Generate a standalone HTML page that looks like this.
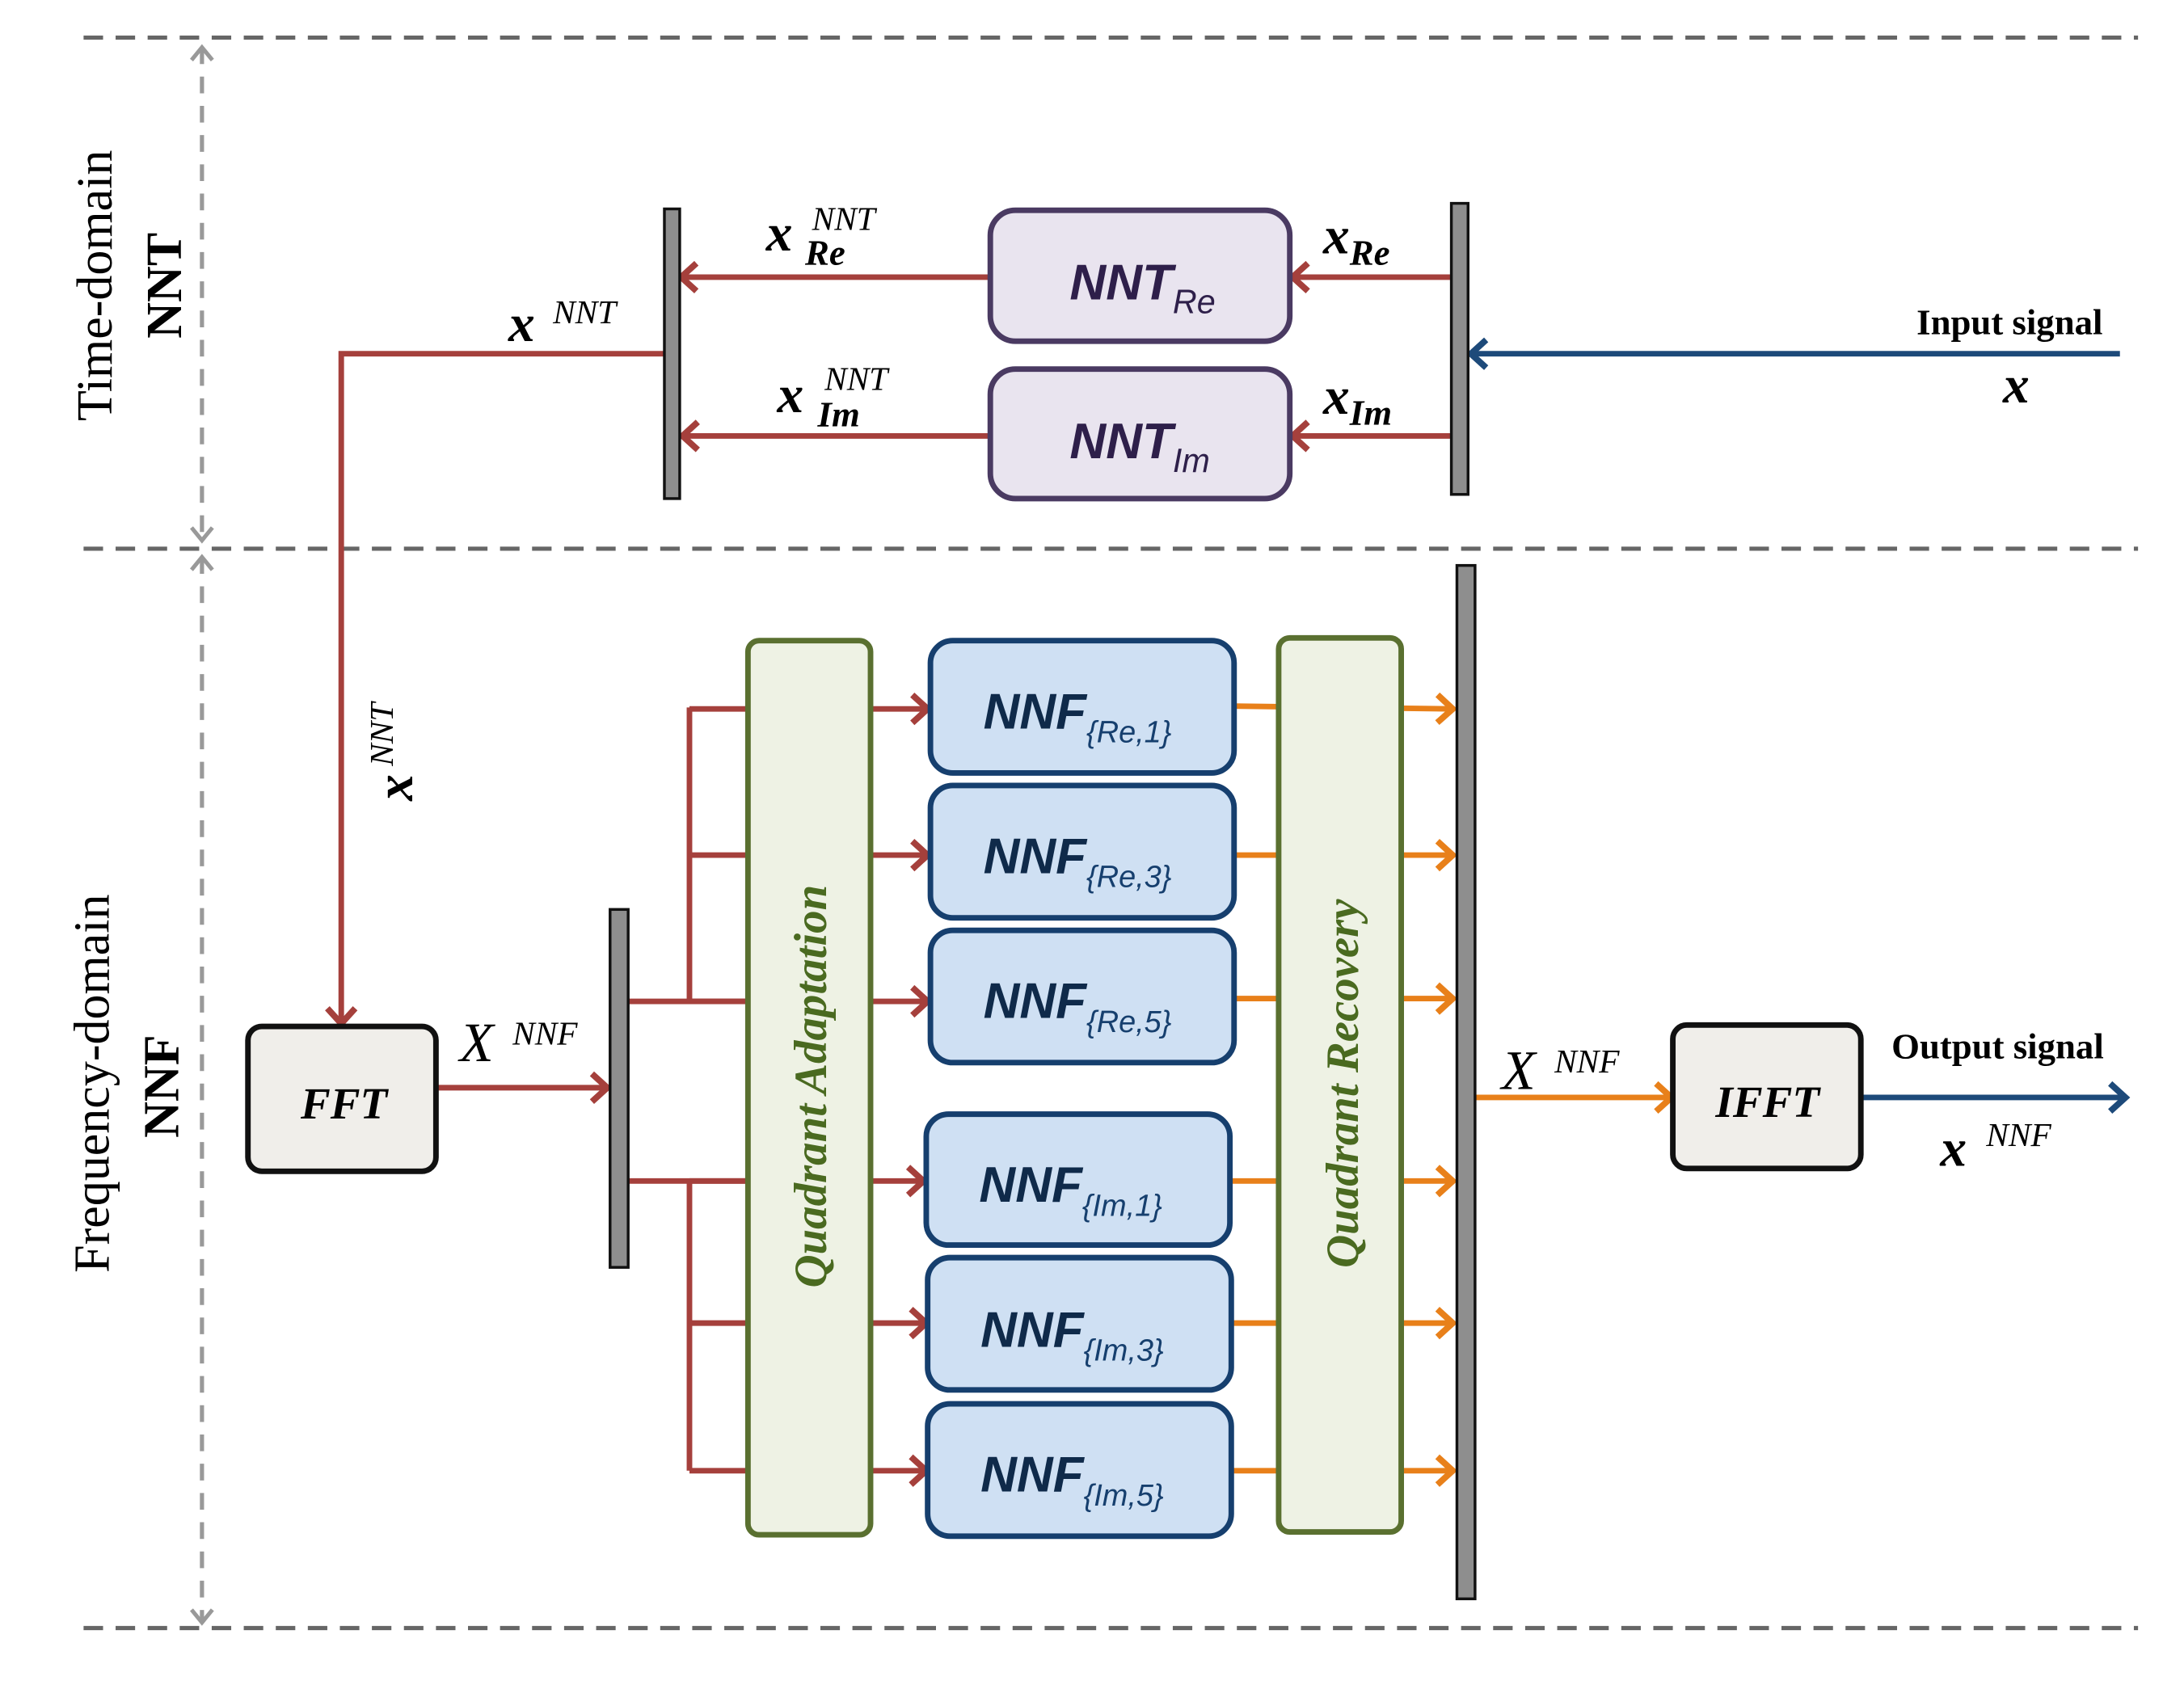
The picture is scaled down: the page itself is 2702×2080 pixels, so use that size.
<!DOCTYPE html>
<html><head><meta charset="utf-8"><style>
html,body{margin:0;padding:0;background:#fff}
svg{display:block}
.s{font-family:"Liberation Serif",serif}
.c{font-family:"Liberation Sans",sans-serif}
</style></head><body>
<svg width="2702" height="2080" viewBox="0 0 1568 1207" preserveAspectRatio="none" xmlns="http://www.w3.org/2000/svg">
<defs>
<marker id="ar" viewBox="0 0 24 24" refX="20" refY="12" markerWidth="24" markerHeight="24" orient="auto" markerUnits="userSpaceOnUse"><path d="M9,2 L20,12 L9,22" fill="none" stroke="#a5403c" stroke-width="4.5"/></marker>
<marker id="ab" viewBox="0 0 24 24" refX="20" refY="12" markerWidth="24" markerHeight="24" orient="auto" markerUnits="userSpaceOnUse"><path d="M9,2 L20,12 L9,22" fill="none" stroke="#1d4a7a" stroke-width="4.5"/></marker>
<marker id="ao" viewBox="0 0 24 24" refX="20" refY="12" markerWidth="24" markerHeight="24" orient="auto" markerUnits="userSpaceOnUse"><path d="M9,2 L20,12 L9,22" fill="none" stroke="#e8801a" stroke-width="4.5"/></marker>
<marker id="ag" viewBox="0 0 24 24" refX="20" refY="12" markerWidth="20" markerHeight="20" orient="auto-start-reverse" markerUnits="userSpaceOnUse"><path d="M9,3 L20,12 L9,21" fill="none" stroke="#999" stroke-width="3.5"/></marker>
</defs>
<g stroke="#666" stroke-width="3" stroke-dasharray="14,9">
<line x1="60" y1="27" x2="1535" y2="27"/>
<line x1="60" y1="394" x2="1535" y2="394"/>
<line x1="60" y1="1169" x2="1535" y2="1169"/>
</g>
<g stroke="#999" stroke-width="3" fill="none">
<line x1="145" y1="34" x2="145" y2="388" stroke-dasharray="12,9" marker-end="url(#ag)" marker-start="url(#ag)"/>
<line x1="145" y1="400" x2="145" y2="1165" stroke-dasharray="12,9" marker-end="url(#ag)" marker-start="url(#ag)"/>
</g>
<text class="s" x="0" y="0" font-size="36" transform="translate(80,205) rotate(-90)" text-anchor="middle">Time-domain</text>
<text class="s" x="0" y="0" font-size="36" font-weight="bold" transform="translate(130,205) rotate(-90)" text-anchor="middle">NNT</text>
<text class="s" x="0" y="0" font-size="36" transform="translate(78,778) rotate(-90)" text-anchor="middle">Frequency-domain</text>
<text class="s" x="0" y="0" font-size="36" font-weight="bold" transform="translate(128,780) rotate(-90)" text-anchor="middle">NNF</text>

<g stroke="#a5403c" stroke-width="4" fill="none">
<line x1="1042" y1="199" x2="928" y2="199" marker-end="url(#ar)"/>
<line x1="1042" y1="313" x2="928" y2="313" marker-end="url(#ar)"/>
<line x1="711" y1="199" x2="489" y2="199" marker-end="url(#ar)"/>
<line x1="711" y1="313" x2="490" y2="313" marker-end="url(#ar)"/>
<polyline points="477,254 245,254 245,735" marker-end="url(#ar)"/>
<line x1="313" y1="781" x2="436" y2="781" marker-end="url(#ar)"/>
<line x1="451" y1="719" x2="537" y2="719"/>
<line x1="451" y1="848" x2="537" y2="848"/>
<line x1="495" y1="508" x2="495" y2="719"/>
<line x1="495" y1="848" x2="495" y2="1056"/>
<line x1="495" y1="509" x2="666" y2="509" marker-end="url(#ar)"/>
<line x1="495" y1="614" x2="666" y2="614" marker-end="url(#ar)"/>
<line x1="495" y1="719" x2="666" y2="719" marker-end="url(#ar)"/>
<line x1="495" y1="848" x2="663" y2="848" marker-end="url(#ar)"/>
<line x1="495" y1="950" x2="665" y2="950" marker-end="url(#ar)"/>
<line x1="495" y1="1056" x2="665" y2="1056" marker-end="url(#ar)"/>
</g>
<g stroke="#1d4a7a" stroke-width="4" fill="none">
<line x1="1522" y1="254" x2="1056" y2="254" marker-end="url(#ab)"/>
<line x1="1336" y1="788" x2="1526" y2="788" marker-end="url(#ab)"/>
</g>
<g stroke="#e8801a" stroke-width="4" fill="none">
<line x1="886" y1="507" x2="1043" y2="509" marker-end="url(#ao)"/>
<line x1="886" y1="614" x2="1043" y2="614" marker-end="url(#ao)"/>
<line x1="886" y1="717" x2="1043" y2="717" marker-end="url(#ao)"/>
<line x1="883" y1="848" x2="1043" y2="848" marker-end="url(#ao)"/>
<line x1="884" y1="950" x2="1043" y2="950" marker-end="url(#ao)"/>
<line x1="884" y1="1056" x2="1043" y2="1056" marker-end="url(#ao)"/>
<line x1="1059" y1="788" x2="1200" y2="788" marker-end="url(#ao)"/>
</g>
<g fill="#8e8e8e" stroke="#111" stroke-width="2">
<rect x="477" y="150" width="11" height="208"/>
<rect x="1042" y="146" width="12" height="209"/>
<rect x="438" y="653" width="13" height="257"/>
<rect x="1046" y="406" width="13" height="742"/>
</g>
<g fill="#e9e4ef" stroke="#4a3a62" stroke-width="4">
<rect x="711" y="151" width="215" height="94" rx="18"/>
<rect x="711" y="265" width="215" height="93" rx="18"/>
</g>
<g class="c" font-style="italic" font-weight="bold" fill="#2e1f4a">
<text x="768" y="215" font-size="36">NNT<tspan font-size="24" font-weight="normal" dy="10">Re</tspan></text>
<text x="768" y="329" font-size="36">NNT<tspan font-size="24" font-weight="normal" dy="10">Im</tspan></text>
</g>
<g fill="#f0eeea" stroke="#111" stroke-width="4">
<rect x="178" y="737" width="135" height="104" rx="10"/>
<rect x="1201" y="736" width="135" height="103" rx="10"/>
</g>
<text class="s" x="247" y="803" font-size="32" font-style="italic" font-weight="bold" text-anchor="middle">FFT</text>
<text class="s" x="1269" y="802" font-size="32" font-style="italic" font-weight="bold" text-anchor="middle">IFFT</text>
<g fill="#eef2e4" stroke="#5a7030" stroke-width="4">
<rect x="537" y="460" width="88" height="642" rx="8"/>
<rect x="918" y="458" width="88" height="642" rx="8"/>
</g>
<text class="s" font-size="33" font-style="italic" font-weight="bold" fill="#4a6a20" text-anchor="middle" transform="translate(593,780) rotate(-90)">Quadrant Adaptation</text>
<text class="s" font-size="33" font-style="italic" font-weight="bold" fill="#4a6a20" text-anchor="middle" transform="translate(975,778) rotate(-90)">Quadrant Recovery</text>
<g fill="#cfe0f3" stroke="#163f6e" stroke-width="4">
<rect x="668" y="460" width="218" height="95" rx="16"/>
<rect x="668" y="564" width="218" height="95" rx="16"/>
<rect x="668" y="668" width="218" height="95" rx="16"/>
<rect x="665" y="800" width="218" height="94" rx="16"/>
<rect x="666" y="903" width="218" height="95" rx="16"/>
<rect x="666" y="1008" width="218" height="95" rx="16"/>
</g>
<g class="c" font-style="italic" font-weight="bold" font-size="36" fill="#0f2a4a">
<text x="706" y="523">NNF<tspan font-size="22" font-weight="normal" fill="#163f6e" dy="10">{Re,1}</tspan></text>
<text x="706" y="627">NNF<tspan font-size="22" font-weight="normal" fill="#163f6e" dy="10">{Re,3}</tspan></text>
<text x="706" y="731">NNF<tspan font-size="22" font-weight="normal" fill="#163f6e" dy="10">{Re,5}</tspan></text>
<text x="703" y="863">NNF<tspan font-size="22" font-weight="normal" fill="#163f6e" dy="10">{Im,1}</tspan></text>
<text x="704" y="967">NNF<tspan font-size="22" font-weight="normal" fill="#163f6e" dy="10">{Im,3}</tspan></text>
<text x="704" y="1071">NNF<tspan font-size="22" font-weight="normal" fill="#163f6e" dy="10">{Im,5}</tspan></text>
</g>
<g class="s" font-style="italic">
<text x="950" y="182" font-size="38" font-weight="bold">x<tspan font-size="26" dy="8">Re</tspan></text>
<text x="950" y="297" font-size="38" font-weight="bold">x<tspan font-size="26" dy="8">Im</tspan></text>
<text x="550" y="180" font-size="38" font-weight="bold">x</text>
<text x="583" y="165" font-size="24">NNT</text>
<text x="578" y="190" font-size="26" font-weight="bold">Re</text>
<text x="558" y="296" font-size="38" font-weight="bold">x</text>
<text x="592" y="280" font-size="24">NNT</text>
<text x="587" y="306" font-size="26" font-weight="bold">Im</text>
<text x="365" y="245" font-size="38" font-weight="bold">x</text>
<text x="397" y="232" font-size="24">NNT</text>
<text transform="translate(296,575) rotate(-90)" font-size="38" font-weight="bold">x<tspan font-size="24" font-weight="normal" dx="6" dy="-14">NNT</tspan></text>
<text x="330" y="762" font-size="40">X</text>
<text x="368" y="750" font-size="24">NNF</text>
<text x="1078" y="782" font-size="40">X</text>
<text x="1116" y="770" font-size="24">NNF</text>
<text x="1393" y="837" font-size="38" font-weight="bold">x</text>
<text x="1426" y="823" font-size="24">NNF</text>
<text x="1438" y="289" font-size="38" font-weight="bold">x</text>
</g>
<g class="s" font-weight="bold" font-size="26">
<text x="1376" y="240">Input signal</text>
<text x="1358" y="760">Output signal</text>
</g>
</svg>
</body></html>
